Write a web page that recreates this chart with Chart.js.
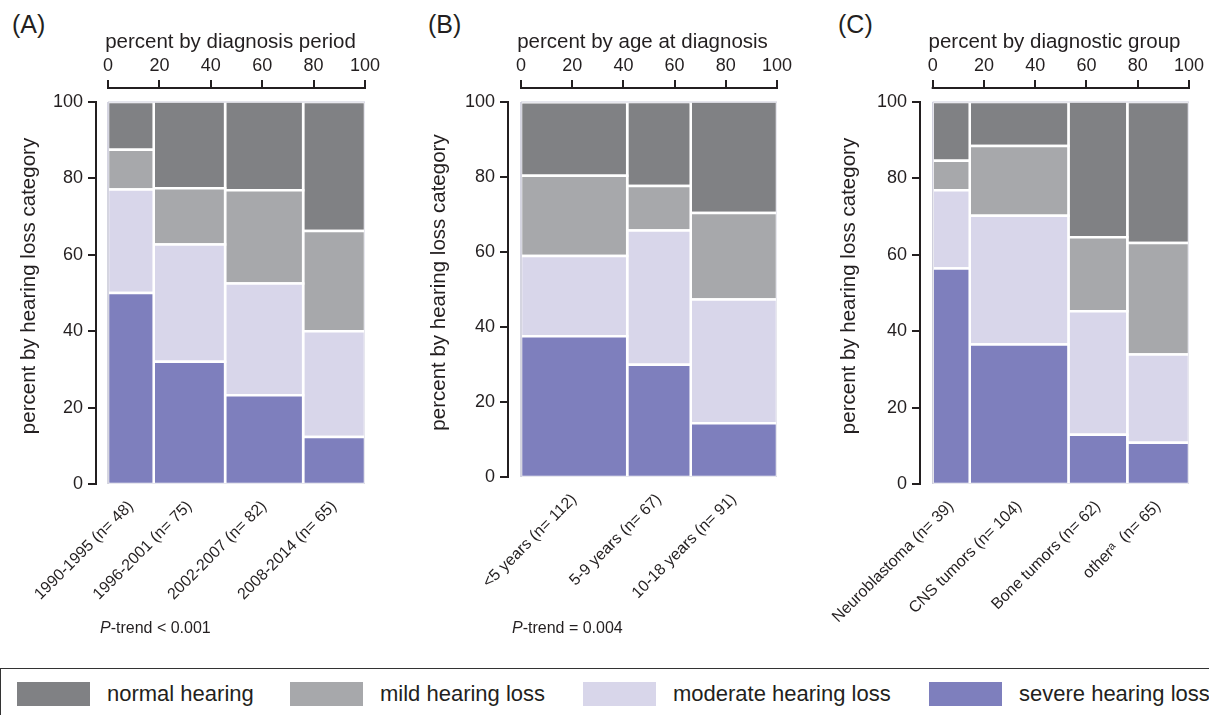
<!DOCTYPE html>
<html>
<head>
<meta charset="utf-8">
<script src="https://cdn.jsdelivr.net/npm/chart.js@4.4.1/dist/chart.umd.min.js"></script>
<style>
  body { margin: 0; width: 1209px; height: 715px; background: #fff; position: relative; overflow: hidden;
         font-family: "Liberation Sans", Arial, sans-serif; color: #231f20; }
  canvas { position: absolute; top: 0; }
  .tag { position: absolute; top: 12px; font-size: 25px; line-height: 1; }
  .ptrend { position: absolute; top: 620px; font-size: 16px; line-height: 1; }
  #legend { position: absolute; left: 0; top: 668px; width: 1240px; height: 60px;
            border-top: 1.5px solid #333; border-left: 1.5px solid #333; }
  .item { position: absolute; top: 12px; height: 25px; display: flex; align-items: center;
          font-size: 22px; white-space: nowrap; }
  .box { width: 73px; height: 24px; margin-right: 17px; }
</style>
</head>
<body>
<div class="tag" style="left:12px">(A)</div>
<div class="tag" style="left:428px">(B)</div>
<div class="tag" style="left:838px">(C)</div>

<canvas id="panelA" width="400" height="660" style="left:0px"></canvas>
<canvas id="panelB" width="400" height="660" style="left:410px"></canvas>
<canvas id="panelC" width="389" height="660" style="left:820px"></canvas>

<div class="ptrend" style="left:100px"><i>P</i>-trend &lt; 0.001</div>
<div class="ptrend" style="left:512px"><i>P</i>-trend = 0.004</div>

<div id="legend"></div>

<script>
// hearing loss categories, top to bottom in the mosaic
const categories = ["normal hearing", "mild hearing loss", "moderate hearing loss", "severe hearing loss"];
const topTicks = [0, 20, 40, 60, 80, 100];

// (A) diagnosis period
const periodLabels = ["1990-1995 (n= 48)", "1996-2001 (n= 75)", "2002-2007 (n= 82)", "2008-2014 (n= 65)"];
const periodN = [48, 75, 82, 65];
const periodSevere = [50.0, 32.0, 23.2, 12.3];
const periodModerate = [27.1, 30.7, 29.3, 27.7];
const periodMild = [10.4, 14.7, 24.4, 26.2];
const periodNormal = [12.5, 22.7, 23.2, 33.8];

// (B) age at diagnosis
const ageLabels = ["<5 years (n= 112)", "5-9 years (n= 67)", "10-18 years (n= 91)"];
const ageN = [112, 67, 91];
const ageSevere = [37.5, 29.9, 14.3];
const ageModerate = [21.4, 35.8, 33.0];
const ageMild = [21.4, 11.9, 23.1];
const ageNormal = [19.6, 22.4, 29.7];

// (C) diagnostic group
const groupLabels = ["Neuroblastoma (n= 39)", "CNS tumors (n= 104)", "Bone tumors (n= 62)", "other\u1d43  (n= 65)"];
const groupN = [39, 104, 62, 65];
const groupSevere = [56.4, 36.5, 12.9, 10.8];
const groupModerate = [20.5, 33.7, 32.3, 23.1];
const groupMild = [7.7, 18.3, 19.4, 29.2];
const groupNormal = [15.4, 11.5, 35.5, 36.9];

const ink = "#231f20";
// same order as categories
const catColors = ["#808184", "#a7a8ab", "#d8d6ea", "#7e7fbd"];

// legend
const legendLeft = [16, 289, 582, 928];
const legend = document.getElementById("legend");
categories.forEach((c, i) => {
  const it = document.createElement("div");
  it.className = "item";
  it.style.left = legendLeft[i] + "px";
  it.innerHTML = '<div class="box" style="background:' + catColors[i] + '"></div>' + c;
  legend.appendChild(it);
});

const mosaic = (n, severe, moderate, mild, normal) => {
  const total = n.reduce((a, b) => a + b, 0);
  const layers = [severe, moderate, mild, normal];
  const layerColors = [catColors[3], catColors[2], catColors[1], catColors[0]];
  const sets = [];
  const centers = [];
  let x0 = 0;
  n.forEach((count, i) => {
    const x1 = x0 + count / total * 100;
    centers.push((x0 + x1) / 2);
    let y0 = 0;
    layers.forEach((layer, k) => {
      const y1 = y0 + layer[i];
      sets.push({
        data: [{x: x0, y: y0}, {x: x1, y: y0}, {x: x1, y: y1}, {x: x0, y: y1}, {x: x0, y: y0}],
        showLine: true,
        fill: "shape",
        backgroundColor: layerColors[k],
        borderColor: "#ffffff",
        borderWidth: 2.5,
        borderJoinStyle: "miter",
        pointRadius: 0,
      });
      y0 = y1;
    });
    x0 = x1;
  });
  // thin frame round the whole mosaic
  sets.unshift({
    data: [{x: 0, y: 0}, {x: 100, y: 0}, {x: 100, y: 100}, {x: 0, y: 100}, {x: 0, y: 0}],
    showLine: true, fill: false, borderColor: "#cfcfdc", borderWidth: 1, pointRadius: 0,
  });
  return {sets, centers};
};

// axis lines only span 0..100, offset from the data like the original
const axisLines = {
  id: "axisLines",
  afterDraw(chart) {
    const {ctx, chartArea, scales: {x, y}} = chart;
    ctx.save();
    ctx.strokeStyle = ink;
    ctx.lineWidth = 2;
    ctx.beginPath();
    ctx.moveTo(x.getPixelForValue(0) - 1, chartArea.top);
    ctx.lineTo(x.getPixelForValue(100) + 1, chartArea.top);
    ctx.moveTo(chartArea.left, y.getPixelForValue(0) + 1);
    ctx.lineTo(chartArea.left, y.getPixelForValue(100) - 1);
    ctx.stroke();
    ctx.restore();
  },
};

const makePanel = (id, m, o) => {
  new Chart(document.getElementById(id), {
    type: "scatter",
    data: {datasets: m.sets},
    options: {
      responsive: false,
      animation: false,
      events: [],
      layout: {padding: {left: 0, top: 0, right: o.padRight, bottom: 0}},
      plugins: {legend: {display: false}, tooltip: {enabled: false}},
      scales: {
        x: {
          type: "linear", position: "top", min: o.xMin, max: 100,
          afterBuildTicks: s => { s.ticks = topTicks.map(v => ({value: v})); },
          afterFit: s => { s.height = 88; s.paddingLeft = 0; s.paddingRight = 0; },
          ticks: {font: {size: 18}, color: ink, padding: 3, maxRotation: 0, autoSkip: false},
          grid: {drawOnChartArea: false, tickLength: 8, lineWidth: 2, color: ink},
          border: {display: false},
          title: {display: true, text: o.xTitle, font: {size: 20.5}, color: ink, padding: {top: 30, bottom: 0}},
        },
        y: {
          type: "linear", min: 0, max: o.yMax,
          afterBuildTicks: s => { s.ticks = topTicks.map(v => ({value: v})); },
          afterFit: s => { s.width = o.yWidth; s.paddingTop = 0; s.paddingBottom = 0; },
          ticks: {font: {size: 18}, color: ink, padding: 5, autoSkip: false},
          grid: {drawOnChartArea: false, tickLength: 8, lineWidth: 2, color: ink},
          border: {display: false},
          title: {display: true, text: "percent by hearing loss category", font: {size: 20.5}, color: ink,
                  padding: {top: 17, bottom: 0}},
        },
        xb: {
          type: "linear", position: "bottom", min: o.xMin, max: 100,
          afterBuildTicks: s => { s.ticks = m.centers.map(v => ({value: v})); },
          afterFit: s => { s.height = 660 - o.bottom; s.paddingLeft = 0; s.paddingRight = 0; },
          ticks: {callback: (v, i) => o.labels[i], minRotation: 45, maxRotation: 45, autoSkip: false,
                  font: {size: 16}, color: ink, padding: 13},
          grid: {display: false, drawTicks: false},
          border: {display: false},
        },
      },
    },
    plugins: [axisLines],
  });
};

makePanel("panelA", mosaic(periodN, periodSevere, periodModerate, periodMild, periodNormal),
  {labels: periodLabels, xTitle: "percent by diagnosis period", xMin: -4.67, yMax: 103.66, yWidth: 96, padRight: 35, bottom: 484});
makePanel("panelB", mosaic(ageN, ageSevere, ageModerate, ageMild, ageNormal),
  {labels: ageLabels, xTitle: "percent by age at diagnosis", xMin: -5.08, yMax: 103.73, yWidth: 98, padRight: 33, bottom: 477});
makePanel("panelC", mosaic(groupN, groupSevere, groupModerate, groupMild, groupNormal),
  {labels: groupLabels, xTitle: "percent by diagnostic group", xMin: -4.95, yMax: 103.66, yWidth: 100, padRight: 20, bottom: 484});
</script>
</body>
</html>
